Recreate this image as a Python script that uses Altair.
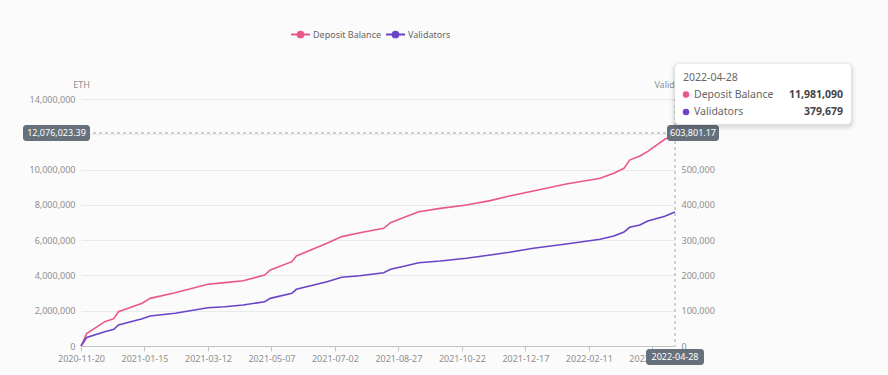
import altair as alt
import pandas as pd

# ---------------- data ----------------
dates = ["2020-11-20", "2020-11-25", "2020-12-11", "2020-12-19", "2020-12-23", "2021-01-13",
         "2021-01-20", "2021-02-11", "2021-03-12", "2021-03-27", "2021-04-12", "2021-05-01",
         "2021-05-06", "2021-05-25", "2021-05-29", "2021-06-25", "2021-07-08", "2021-07-24",
         "2021-08-14", "2021-08-20", "2021-08-30", "2021-09-14", "2021-10-03", "2021-10-26",
         "2021-11-16", "2021-12-03", "2021-12-24", "2022-01-22", "2022-02-21", "2022-03-05",
         "2022-03-14", "2022-03-19", "2022-03-28", "2022-04-04", "2022-04-19", "2022-04-28"]
deposit = [0, 700000, 1380000, 1550000, 1940000, 2420000, 2700000, 3020000, 3500000, 3590000,
           3700000, 4020000, 4310000, 4780000, 5100000, 5820000, 6200000, 6420000, 6670000,
           6990000, 7240000, 7610000, 7800000, 7990000, 8240000, 8500000, 8790000, 9180000,
           9510000, 9790000, 10070000, 10540000, 10770000, 11030000, 11720000, 11981090]
validators = [0, 24000, 40500, 47500, 59500, 77000, 85000, 92700, 108500, 111400, 116200,
              125500, 135000, 149400, 160700, 182200, 194700, 199200, 207700, 217400, 224700,
              236000, 240900, 248500, 257900, 265500, 276900, 289000, 302400, 311700, 323000,
              336400, 342900, 354000, 368000, 379679]

series_names = ["Deposit Balance", "Validators"]
series_colors = ["#e9578b", "#6a43c6"]
axis_titles = ["ETH", "Validators"]
x_tick_dates = ["2020-11-20", "2021-01-15", "2021-03-12", "2021-05-07", "2021-07-02",
                "2021-08-27", "2021-10-22", "2021-12-17", "2022-02-11", "2022-04-08"]
left_ticks = [0, 2000000, 4000000, 6000000, 8000000, 10000000, 12000000, 14000000]
right_ticks = [0, 100000, 200000, 300000, 400000, 500000, 600000, 700000]
pointer_date = "2022-04-28"
pointer_left = 12076023.39
pointer_right = 603801.17

# ---------------- style ----------------
W, H = 594, 247
FONT = "Noto Sans"
LABEL_C = "#8e8e8e"
PTR_BG = "#66717c"
TIP_C = "#666666"


def ms(d):
    return int(pd.Timestamp(d).tz_localize("UTC").timestamp() * 1000)


x_scale = alt.Scale(type="utc", domain=[ms(dates[0]), ms(dates[-1])])
left_scale = alt.Scale(domain=[left_ticks[0], left_ticks[-1]], nice=False)
right_scale = alt.Scale(domain=[right_ticks[0], right_ticks[-1]], nice=False)

x_axis = alt.Axis(values=[ms(d) for d in x_tick_dates],
                  labelExpr="utcFormat(datum.value, '%Y-%m-%d')",
                  labelFlush=False, labelOverlap=False, grid=False, domainColor="#c4c4c4",
                  tickColor="#c4c4c4", tickSize=5, labelPadding=3, labelFontSize=9,
                  labelColor=LABEL_C, labelFont=FONT, title=None)
x_enc = alt.X("date:T", scale=x_scale, axis=x_axis)


def y_axis(orient, title, ticks, grid):
    return alt.Axis(orient=orient, values=ticks, format=",.0f", grid=grid, gridColor="#e8eaf0",
                    domain=False, ticks=False, labelPadding=6, labelFontSize=9,
                    labelColor=LABEL_C, labelFont=FONT, title=title, titleAngle=0, titleX=0,
                    titleY=-15, titleAlign="center", titleBaseline="middle",
                    titleFontWeight="normal", titleFontSize=9, titleColor=LABEL_C,
                    titleFont=FONT, labelOverlap=False)


df = pd.DataFrame({"date": dates, "deposit": deposit, "validators": validators})

pink = alt.Chart(df).mark_line(color=series_colors[0], strokeWidth=1.6).encode(
    x=x_enc,
    y=alt.Y("deposit:Q", scale=left_scale, axis=y_axis("left", axis_titles[0], left_ticks, True)))
purple = alt.Chart(df).mark_line(color=series_colors[1], strokeWidth=1.6).encode(
    x=x_enc,
    y=alt.Y("validators:Q", scale=right_scale, axis=y_axis("right", axis_titles[1], right_ticks, False)))

ptr = pd.DataFrame({"date": [pointer_date], "date_txt": [pointer_date],
                    "left": [pointer_left], "right": [pointer_right],
                    "left_txt": [f"{pointer_left:,.2f}"], "right_txt": [f"{pointer_right:,.2f}"]})

hrule = alt.Chart(ptr).mark_rule(color="#a6a6a6", strokeDash=[3, 3], strokeWidth=1).encode(
    y=alt.Y("left:Q", scale=left_scale, axis=None), x=alt.value(0), x2=alt.value(W))
vrule = alt.Chart(ptr).mark_rule(color="#a6a6a6", strokeDash=[3, 3], strokeWidth=1).encode(
    x=x_enc, y=alt.value(0), y2=alt.value(H))

lbox = alt.Chart(ptr).mark_rect(color=PTR_BG, cornerRadius=3, yOffset=-8, y2Offset=8).encode(
    x=alt.value(-58), x2=alt.value(9),
    y=alt.Y("left:Q", scale=left_scale, axis=None), y2="left:Q")
ltxt = alt.Chart(ptr).mark_text(color="white", fontSize=9, font=FONT, align="center",
                                baseline="middle").encode(
    x=alt.value(-24.5), y=alt.Y("left:Q", scale=left_scale, axis=None), text="left_txt:N")

rbox = alt.Chart(ptr).mark_rect(color=PTR_BG, cornerRadius=3, yOffset=-8, y2Offset=8).encode(
    x=alt.value(586), x2=alt.value(638),
    y=alt.Y("right:Q", scale=right_scale, axis=None), y2="right:Q")
rtxt = alt.Chart(ptr).mark_text(color="white", fontSize=9, font=FONT, align="center",
                                baseline="middle").encode(
    x=alt.value(612), y=alt.Y("right:Q", scale=right_scale, axis=None), text="right_txt:N")

bbox = alt.Chart(ptr).mark_rect(color=PTR_BG, cornerRadius=3, xOffset=-29, x2Offset=29).encode(
    x=x_enc, x2="date:T", y=alt.value(H + 3), y2=alt.value(H + 19))
btxt = alt.Chart(ptr).mark_text(color="white", fontSize=9, font=FONT, align="center",
                                baseline="middle").encode(
    x=x_enc, y=alt.value(H + 11), text="date_txt:N")

# ---------------- tooltip ----------------
one = pd.DataFrame({"k": [0]})
tip_layers = []
for pad, op in [(5, 0.025), (3, 0.035), (1.5, 0.05)]:
    tip_layers.append(alt.Chart(one).mark_rect(color="#000000", opacity=op, cornerRadius=4 + pad).encode(
        x=alt.value(594 - pad), x2=alt.value(770 + pad),
        y=alt.value(-35 - pad + 2), y2=alt.value(25 + pad + 2)))
tip_layers.append(alt.Chart(one).mark_rect(color="white", cornerRadius=4).encode(
    x=alt.value(594), x2=alt.value(770), y=alt.value(-35), y2=alt.value(25)))
tip_layers.append(alt.Chart(pd.DataFrame({"t": [dates[-1]]})).mark_text(
    color=TIP_C, fontSize=10.5, font=FONT, align="left", baseline="middle").encode(
    x=alt.value(602), y=alt.value(-21.5), text="t:N"))
last_vals = [f"{deposit[-1]:,}", f"{validators[-1]:,}"]
for i, (nm, col, val) in enumerate(zip(series_names, series_colors, last_vals)):
    row = pd.DataFrame({"name": [nm], "val": [val]})
    yy = -4.5 + i * 17.5
    tip_layers.append(alt.Chart(row).mark_point(filled=True, shape="circle", size=42, opacity=1,
                                                color=col).encode(
        x=alt.value(605), y=alt.value(yy)))
    tip_layers.append(alt.Chart(row).mark_text(color=TIP_C, fontSize=10.5, font=FONT, align="left",
                                               baseline="middle").encode(
        x=alt.value(613), y=alt.value(yy), text="name:N"))
    tip_layers.append(alt.Chart(row).mark_text(color="#444444", fontSize=10.5, font=FONT,
                                               fontWeight="bold", align="right",
                                               baseline="middle").encode(
        x=alt.value(762), y=alt.value(yy), text="val:N"))

# ---------------- legend ----------------
leg_layers = []
leg_x = [210, 305]
for nm, col, lx in zip(series_names, series_colors, leg_x):
    row = pd.DataFrame({"name": [nm]})
    leg_layers.append(alt.Chart(row).mark_rule(color=col, strokeWidth=2).encode(
        x=alt.value(lx), x2=alt.value(lx + 19), y=alt.value(-64.5)))
    leg_layers.append(alt.Chart(row).mark_point(filled=True, shape="circle", size=60, opacity=1,
                                                color=col).encode(
        x=alt.value(lx + 9.5), y=alt.value(-64.5)))
    leg_layers.append(alt.Chart(row).mark_text(color=TIP_C, fontSize=9, font=FONT, align="left",
                                               baseline="middle").encode(
        x=alt.value(lx + 22), y=alt.value(-64.5), text="name:N"))

chart = alt.layer(
    pink, purple, hrule, vrule, lbox, ltxt, rbox, rtxt, bbox, btxt, *tip_layers, *leg_layers
).resolve_scale(y="independent").properties(
    width=W, height=H,
    padding={"left": 81, "top": 99, "right": 213, "bottom": 29},
    autosize=alt.AutoSizeParams(type="none"),
    background="#fbfbfb",
).configure_view(stroke=None)

chart.save("out.html", embed_options={"renderer": "svg", "actions": False})
